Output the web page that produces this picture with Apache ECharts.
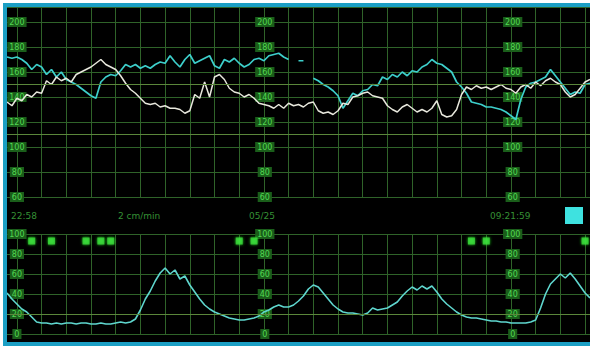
<!DOCTYPE html>
<html>
<head>
<meta charset="utf-8">
<script src="https://cdn.jsdelivr.net/npm/echarts@6/dist/echarts.min.js"></script>
<style>
  html, body { margin: 0; padding: 0; background: #fff; }
  #chart { width: 590px; height: 347px; }
</style>
</head>
<body>
<div id="chart"></div>
<script>
// fetal heart rate, twin A (cyan) and twin B (white), bpm
var fhrA = [172, 171, 172, 170, 167, 162, 166, 164, 158, 162, 156, 160, 154, 152, 150, 147, 144, 141, 139, 152,
  156, 158, 157, 161, 166, 164, 166, 163, 165, 163, 166, 168, 167, 173, 168, 164, 170, 174, 167, 169,
  171, 173, 165, 163, 170, 168, 171, 167, 164, 166, 170, 171, 169, 173, 174, 175, 172, 170, null, 169,
  169, null, 155, 153, 150, 148, 145, 141, 131, 137, 143, 141, 145, 146, 150, 149, 156, 154, 158, 156,
  160, 157, 161, 160, 164, 166, 170, 167, 166, 163, 160, 152, 148, 143, 136, 135, 134, 132, 132, 131,
  130, 128, 125, 122, 138, 148, 151, 152, 154, 156, 162, 157, 152, 147, 142, 144, 143, 150, 151]
var fhrB = [136, 133, 139, 137, 142, 140, 144, 143, 153, 150, 156, 153, 155, 152, 158, 160, 162, 164, 167, 170,
  166, 164, 162, 157, 151, 146, 143, 139, 135, 134, 135, 132, 133, 131, 131, 130, 127, 129, 142, 139,
  152, 140, 156, 158, 154, 147, 144, 143, 140, 142, 139, 135, 134, 133, 131, 134, 131, 135, 133, 134,
  132, 135, 136, 129, 127, 128, 126, 129, 135, 134, 140, 141, 143, 144, 141, 140, 139, 133, 130, 128,
  132, 134, 131, 128, 130, 128, 131, 137, 126, 124, 125, 130, 142, 148, 146, 149, 147, 148, 146, 148,
  150, 147, 146, 143, 148, 150, 147, 152, 149, 153, 155, 152, 150, 144, 140, 142, 147, 152, 154]
// uterine activity
var ua = [41, 35, 30, 25, 22, 17, 12, 11, 11, 10, 11, 10, 11, 11, 10, 11, 11, 10, 10, 11,
  10, 10, 11, 12, 11, 12, 15, 24, 35, 43, 53, 61, 66, 60, 64, 55, 58, 49, 42, 35,
  29, 25, 22, 20, 18, 16, 15, 14, 14, 15, 16, 18, 22, 24, 27, 29, 27, 27, 29, 33,
  38, 45, 49, 47, 41, 35, 29, 25, 22, 21, 21, 20, 19, 21, 26, 24, 25, 26, 29, 32,
  38, 43, 47, 44, 48, 45, 48, 42, 35, 30, 26, 22, 19, 17, 16, 16, 15, 14, 13, 13,
  12, 12, 11, 11, 11, 11, 12, 14, 26, 40, 50, 55, 60, 56, 61, 55, 48, 41, 36]
// fetal movement marks (sample index)
var movementMarks = [5, 9, 16, 19, 21, 47, 50, 94, 97, 117]
var markLevel = 93
var fhrGuideLines = [110, 150]
var uaGuideLines = [20]
var fhrTicks = { min: 60, max: 212, step: 20 }
var uaTicks = { min: 0, max: 100, step: 20 }
var labelColumns = [2, 52, 102]   // sample index of the scale columns
var stripTexts = ['22:58', '2 cm/min', '05/25', '09:21:59']

var samples = fhrA.map(function (v, i) { return i })

var gridLine = '#2f6329'
var guideLine = '#5b873b'
var dx = 585 / (samples.length - 1)

function xAxisFor (gi) {
  return {
    type: 'category', gridIndex: gi, data: samples, boundaryGap: false,
    axisLine: { show: false }, axisTick: { show: false }, axisLabel: { show: false },
    splitLine: {
      show: true,
      interval: function (idx) { return (idx - 2) % 5 === 0 },
      lineStyle: { color: gridLine, width: 1 }
    }
  }
}

function yAxesFor (gi, t) {
  return labelColumns.map(function (col, k) {
    return {
      type: 'value', gridIndex: gi, position: 'left',
      offset: -(col * dx),
      min: t.min, max: t.max, interval: t.step,
      axisLine: { show: false }, axisTick: { show: false },
      splitLine: { show: k === 0, lineStyle: { color: gridLine, width: 1 } },
      axisLabel: {
        inside: true, margin: 0, align: 'center', verticalAlign: 'middle',
        showMaxLabel: t.max % t.step === 0,
        fontSize: 8, fontFamily: 'DejaVu Sans', color: '#52d852',
        backgroundColor: '#1a5e1a', padding: [1, 2]
      }
    }
  })
}

var chart = echarts.init(document.getElementById('chart'), null, { renderer: 'svg' })

var option = {
  backgroundColor: '#000',
  animation: false,
  grid: [
    { left: 7, top: 7, width: 585, height: 190 },
    { left: 7, top: 234, width: 585, height: 100 }
  ],
  xAxis: [xAxisFor(0), xAxisFor(1)],
  yAxis: yAxesFor(0, fhrTicks).concat(yAxesFor(1, uaTicks)),
  series: [
    {
      name: 'FHR1', type: 'line', xAxisIndex: 0, yAxisIndex: 0,
      data: fhrA, symbol: 'none', connectNulls: false, z: 3,
      lineStyle: { color: '#3dcfcb', width: 1.7 },
      markLine: {
        silent: true, symbol: 'none', label: { show: false },
        lineStyle: { color: guideLine, width: 1, type: 'solid' },
        data: fhrGuideLines.map(function (v) { return { yAxis: v } })
      }
    },
    {
      name: 'FHR2', type: 'line', xAxisIndex: 0, yAxisIndex: 0,
      data: fhrB, symbol: 'none', z: 4,
      lineStyle: { color: '#e8e8dd', width: 1.5 }
    },
    {
      name: 'UA', type: 'line', xAxisIndex: 1, yAxisIndex: 3,
      data: ua, symbol: 'none',
      lineStyle: { color: '#5fd6ce', width: 1.6 },
      markLine: {
        silent: true, symbol: 'none', label: { show: false },
        lineStyle: { color: guideLine, width: 1, type: 'solid' },
        data: uaGuideLines.map(function (v) { return { yAxis: v } })
      }
    },
    {
      name: 'FM', type: 'scatter', xAxisIndex: 1, yAxisIndex: 3,
      data: movementMarks.map(function (i) { return [i, markLevel] }),
      symbol: 'rect', symbolSize: 7,
      itemStyle: { color: '#3fdc3f', shadowBlur: 3, shadowColor: '#2f2' }
    }
  ],
  graphic: [
    { type: 'text', left: 11, top: 211, style: { text: stripTexts[0], fill: '#359035', font: '9px DejaVu Sans' } },
    { type: 'text', left: 118, top: 211, style: { text: stripTexts[1], fill: '#359035', font: '9px DejaVu Sans' } },
    { type: 'text', left: 249, top: 211, style: { text: stripTexts[2], fill: '#359035', font: '9px DejaVu Sans' } },
    { type: 'text', left: 490, top: 211, style: { text: stripTexts[3], fill: '#359035', font: '9px DejaVu Sans' } },
    { type: 'rect', shape: { x: 565, y: 207, width: 18, height: 17 }, style: { fill: '#3ee2e0' } },
    // frame
    { type: 'rect', z: 100, shape: { x: 0, y: 0, width: 590, height: 3 }, style: { fill: '#fff' } },
    { type: 'rect', z: 100, shape: { x: 0, y: 0, width: 3, height: 347 }, style: { fill: '#fff' } },
    { type: 'rect', z: 100, shape: { x: 0, y: 346, width: 590, height: 1 }, style: { fill: '#fff' } },
    { type: 'rect', z: 100, shape: { x: 3, y: 3, width: 587, height: 4 }, style: { fill: '#1b9fc4' } },
    { type: 'rect', z: 100, shape: { x: 3, y: 3, width: 4, height: 343 }, style: { fill: '#1b9fc4' } },
    { type: 'rect', z: 100, shape: { x: 3, y: 342, width: 587, height: 4 }, style: { fill: '#1b9fc4' } }
  ]
}

chart.setOption(option)
</script>
</body>
</html>
